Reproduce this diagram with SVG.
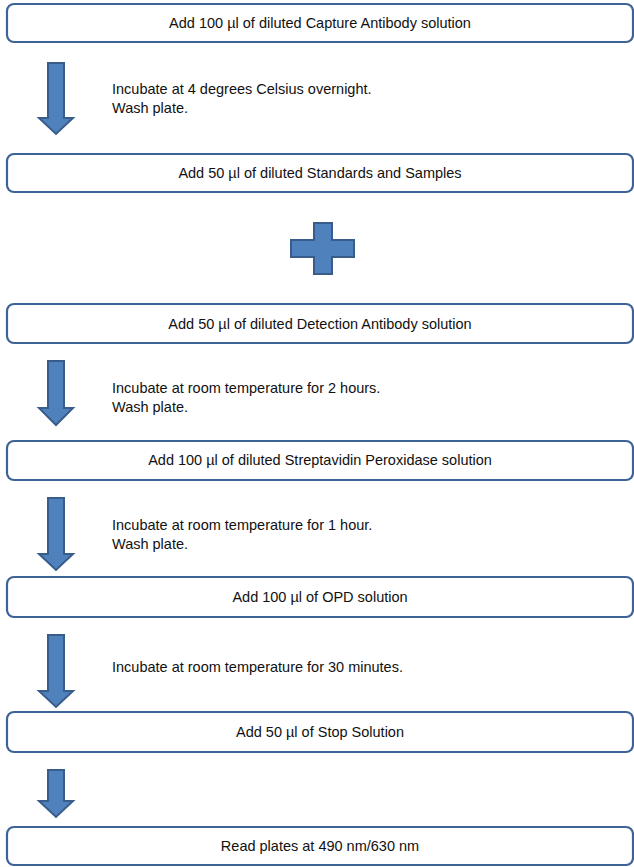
<svg xmlns="http://www.w3.org/2000/svg" width="634" height="867" viewBox="0 0 634 867">
<style>
.box{fill:#ffffff;stroke:#3E6497;stroke-width:2.2}
.arr{fill:#4F81BD;stroke:#385D8A;stroke-width:2;stroke-linejoin:miter}
.t{font-family:"Liberation Sans",Arial,sans-serif;font-size:14.5px;fill:#111}
.c{text-anchor:middle}
</style>
<rect width="634" height="867" fill="#ffffff"/>
<g id="connectors">
<polygon class="arr" points="48,63 64,63 64,118 73,118 56,134 39,118 48,118"/>
<polygon class="arr" points="48,361 64,361 64,408 73,408 56,425 39,408 48,408"/>
<polygon class="arr" points="48,498 64,498 64,554 73,554 56,570 39,554 48,554"/>
<polygon class="arr" points="48,635 64,635 64,691 73,691 56,707 39,691 48,691"/>
<polygon class="arr" points="48,770 64,770 64,801 73,801 56,817 39,801 48,801"/>
</g>
<g id="label1"><text class="t" x="112" y="89" dominant-baseline="central">Incubate at 4 degrees Celsius overnight.</text><text class="t" x="112" y="108" dominant-baseline="central">Wash plate.</text></g>
<g id="label2"><text class="t" x="112" y="388" dominant-baseline="central">Incubate at room temperature for 2 hours.</text><text class="t" x="112" y="407" dominant-baseline="central">Wash plate.</text></g>
<g id="label3"><text class="t" x="112" y="525" dominant-baseline="central">Incubate at room temperature for 1 hour.</text><text class="t" x="112" y="544" dominant-baseline="central">Wash plate.</text></g>
<g id="label4"><text class="t" x="112" y="667" dominant-baseline="central">Incubate at room temperature for 30 minutes.</text></g>
<g id="node1"><rect class="box" x="7" y="4" width="626" height="38" rx="7"/><text class="t c" x="320" y="23" dominant-baseline="central">Add 100 µl of diluted Capture Antibody solution</text></g>
<g id="node2"><rect class="box" x="7" y="154" width="626" height="38" rx="7"/><text class="t c" x="320" y="173" dominant-baseline="central">Add 50 µl of diluted Standards and Samples</text></g>
<g id="plus"><polygon class="arr" points="314,223 332,223 332,240 354,240 354,257 332,257 332,274 314,274 314,257 291,257 291,240 314,240"/></g>
<g id="node3"><rect class="box" x="7" y="304" width="626" height="39" rx="7"/><text class="t c" x="320" y="324" dominant-baseline="central">Add 50 µl of diluted Detection Antibody solution</text></g>
<g id="node4"><rect class="box" x="7" y="441" width="626" height="39" rx="7"/><text class="t c" x="320" y="460" dominant-baseline="central">Add 100 µl of diluted Streptavidin Peroxidase solution</text></g>
<g id="node5"><rect class="box" x="7" y="577" width="626" height="40" rx="7"/><text class="t c" x="320" y="597" dominant-baseline="central">Add 100 µl of OPD solution</text></g>
<g id="node6"><rect class="box" x="7" y="712" width="626" height="40" rx="7"/><text class="t c" x="320" y="732" dominant-baseline="central">Add 50 µl of Stop Solution</text></g>
<g id="node7"><rect class="box" x="7" y="827" width="626" height="38" rx="7"/><text class="t c" x="320" y="846" dominant-baseline="central">Read plates at 490 nm/630 nm</text></g>
</svg>
